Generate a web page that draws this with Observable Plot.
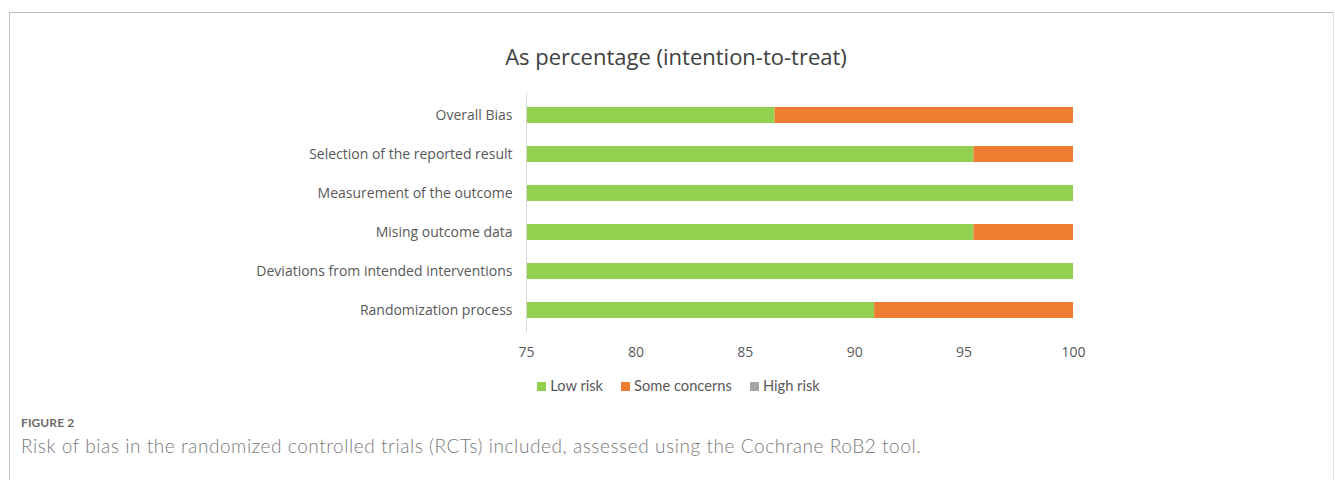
<!DOCTYPE html>
<html>
<head>
<meta charset="utf-8">
<script src="https://cdn.jsdelivr.net/npm/d3@7"></script>
<script src="https://cdn.jsdelivr.net/npm/@observablehq/plot@0.6"></script>
<style>
  html, body { margin: 0; padding: 0; background: #fff; }
  body { width: 1335px; height: 480px; position: relative; overflow: hidden; font-family: "Open Sans", sans-serif; }
  #frame { position: absolute; left: 9px; top: 12px; width: 1323px; height: 480px;
           border-top: 1.5px solid #bdbdbd; border-left: 1.5px solid #c4c4c4; border-right: 1px solid #e2e2e2; }
  #title { position: absolute; left: 0; width: 1352px; top: 41px; text-align: center;
           font-family: "Open Sans", sans-serif; font-size: 22px; color: #404040; font-weight: 400; }
  #chart { position: absolute; left: 0; top: 80px; }
  #legend { position: absolute; left: 0; width: 1357px; top: 376px; text-align: center;
            font-family: "Lato", sans-serif; font-size: 14.7px; color: #595959; }
  #legend span.item { margin: 0 9px; }
  #legend span.sw { display: inline-block; width: 9px; height: 9px; margin-right: 4px; vertical-align: 0px; }
  #fig { position: absolute; left: 21px; top: 415px; font-family: "Lato", sans-serif; font-size: 12px; font-weight: 700; color: #6b6b6b; letter-spacing: 0.1px; }
  #cap { position: absolute; left: 21px; top: 434px; font-family: "Lato", sans-serif; font-size: 19px; color: #7a7a7a; font-weight: 300; letter-spacing: 0.57px; white-space: nowrap; }
</style>
</head>
<body>
<div id="frame"></div>
<div id="title">As percentage (intention-to-treat)</div>
<div id="chart"></div>
<div id="legend"></div>
<div id="fig">FIGURE 2</div>
<div id="cap">Risk of bias in the randomized controlled trials (RCTs) included, assessed using the Cochrane RoB2 tool.</div>
<script>
const domains = [
  "Overall Bias",
  "Selection of the reported result",
  "Measurement of the outcome",
  "Mising outcome data",
  "Deviations from intended interventions",
  "Randomization process"
];
const lowRisk       = [86.36, 95.45, 100, 95.45, 100, 90.91];
const someConcerns  = [13.64, 4.55, 0, 4.55, 0, 9.09];
const highRisk      = [0, 0, 0, 0, 0, 0];
const seriesNames   = ["Low risk", "Some concerns", "High risk"];
const seriesColors  = ["#92d050", "#ed7d31", "#a5a5a5"];
const xTicks        = [75, 80, 85, 90, 95, 100];

const seriesValues = [lowRisk, someConcerns, highRisk];
const rows = [];
seriesNames.forEach((s, si) => {
  domains.forEach((d, di) => rows.push({domain: d, series: s, value: seriesValues[si][di]}));
});

const chart = Plot.plot({
  width: 1335,
  height: 290,
  marginTop: 13,
  marginBottom: 38,
  marginLeft: 526,
  marginRight: 262,
  style: { fontFamily: "Open Sans, sans-serif", fontSize: "14px", color: "#595959", background: "transparent" },
  x: { domain: [75, 100], ticks: xTicks, tickSize: 0, tickPadding: 15, label: null },
  y: { domain: domains, paddingInner: 0.6, paddingOuter: 0.3, tickSize: 0, tickPadding: 14, label: null },
  color: { domain: seriesNames, range: seriesColors },
  marks: [
    Plot.barX(rows, Plot.stackX({
      x: "value", y: "domain", fill: "series", order: seriesNames, clip: true, inset: 0
    })),
    Plot.ruleX([75], { stroke: "#d9d9d9", strokeWidth: 1 })
  ]
});
document.getElementById("chart").appendChild(chart);

const legend = document.getElementById("legend");
seriesNames.forEach((s, i) => {
  const item = document.createElement("span");
  item.className = "item";
  const sw = document.createElement("span");
  sw.className = "sw";
  sw.style.background = seriesColors[i];
  item.appendChild(sw);
  item.appendChild(document.createTextNode(s));
  legend.appendChild(item);
});
</script>
</body>
</html>
